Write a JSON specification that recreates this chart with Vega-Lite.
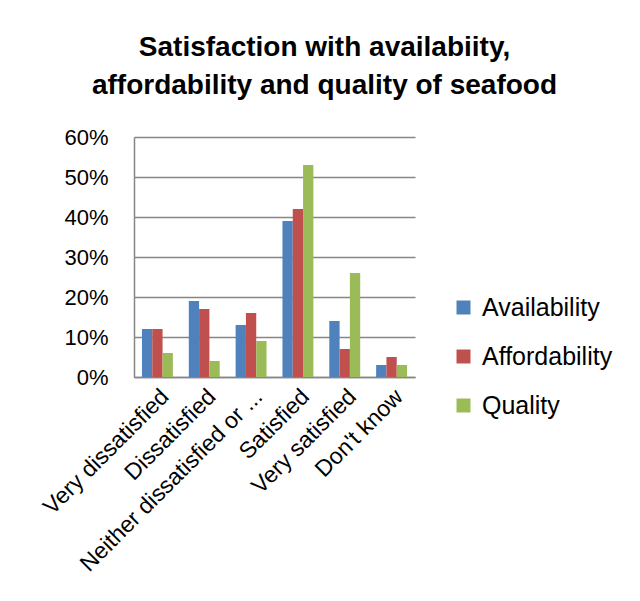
{
  "$schema": "https://vega.github.io/schema/vega-lite/v6.json",
  "width": 281,
  "height": 240,
  "autosize": {"type": "none"},
  "padding": {"left": 134, "top": 137, "right": 225, "bottom": 224},
  "background": "white",
  "title": {
    "text": ["Satisfaction with availabiity,", "affordability and quality of seafood"],
    "font": "Liberation Sans",
    "fontSize": 28,
    "fontWeight": "bold",
    "color": "black",
    "anchor": "middle",
    "dx": 50,
    "lineHeight": 38,
    "offset": 26
  },
  "data": {
    "values": [
      {"category": "Very dissatisfied", "series": "Availability", "value": 0.12},
      {"category": "Very dissatisfied", "series": "Affordability", "value": 0.12},
      {"category": "Very dissatisfied", "series": "Quality", "value": 0.06},
      {"category": "Dissatisfied", "series": "Availability", "value": 0.19},
      {"category": "Dissatisfied", "series": "Affordability", "value": 0.17},
      {"category": "Dissatisfied", "series": "Quality", "value": 0.04},
      {"category": "Neither dissatisfied or ...", "series": "Availability", "value": 0.13},
      {"category": "Neither dissatisfied or ...", "series": "Affordability", "value": 0.16},
      {"category": "Neither dissatisfied or ...", "series": "Quality", "value": 0.09},
      {"category": "Satisfied", "series": "Availability", "value": 0.39},
      {"category": "Satisfied", "series": "Affordability", "value": 0.42},
      {"category": "Satisfied", "series": "Quality", "value": 0.53},
      {"category": "Very satisfied", "series": "Availability", "value": 0.14},
      {"category": "Very satisfied", "series": "Affordability", "value": 0.07},
      {"category": "Very satisfied", "series": "Quality", "value": 0.26},
      {"category": "Don't know", "series": "Availability", "value": 0.03},
      {"category": "Don't know", "series": "Affordability", "value": 0.05},
      {"category": "Don't know", "series": "Quality", "value": 0.03}
    ]
  },
  "mark": {"type": "bar"},
  "encoding": {
    "x": {
      "field": "category",
      "type": "nominal",
      "sort": ["Very dissatisfied", "Dissatisfied", "Neither dissatisfied or ...", "Satisfied", "Very satisfied", "Don't know"],
      "scale": {"paddingInner": 0.34, "paddingOuter": 0.17},
      "axis": {
        "title": null,
        "labelAngle": -45,
        "labelLimit": 400,
        "labelPadding": 8,
        "labelFontSize": 23,
        "ticks": false,
        "grid": false
      }
    },
    "xOffset": {
      "field": "series",
      "type": "nominal",
      "sort": ["Availability", "Affordability", "Quality"],
      "scale": {"paddingInner": 0, "paddingOuter": 0}
    },
    "y": {
      "field": "value",
      "type": "quantitative",
      "scale": {"domain": [0, 0.6], "nice": false},
      "axis": {
        "title": null,
        "values": [0, 0.1, 0.2, 0.3, 0.4, 0.5, 0.6],
        "format": ".0%",
        "ticks": false,
        "labelPadding": 26,
        "grid": true
      }
    },
    "color": {
      "field": "series",
      "type": "nominal",
      "scale": {
        "domain": ["Availability", "Affordability", "Quality"],
        "range": ["#4F81BD", "#C0504D", "#9BBB59"]
      },
      "legend": {
        "title": null,
        "orient": "none",
        "legendX": 317,
        "legendY": 158,
        "symbolType": "square",
        "symbolSize": 196,
        "symbolStrokeWidth": 0,
        "labelFont": "Liberation Sans",
        "labelFontSize": 25,
        "labelColor": "black",
        "labelOffset": 6,
        "rowPadding": 23
      }
    }
  },
  "config": {
    "view": {"stroke": null},
    "axis": {
      "labelFont": "Liberation Sans",
      "labelFontSize": 22,
      "labelColor": "black",
      "domainColor": "#868686",
      "domainWidth": 1.5,
      "gridColor": "#868686",
      "gridWidth": 1.5
    }
  }
}
